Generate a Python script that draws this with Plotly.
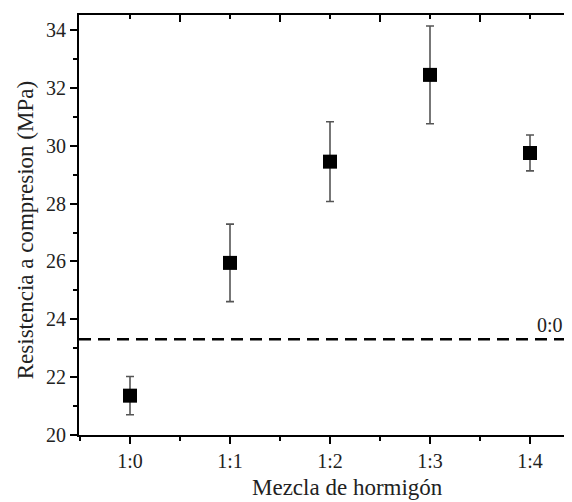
import plotly.graph_objects as go

categories = ["1:0", "1:1", "1:2", "1:3", "1:4"]
strength = [21.36, 25.95, 29.45, 32.45, 29.75]
err = [0.66, 1.34, 1.38, 1.69, 0.62]
reference_value = 23.31
reference_label = "0:0"
y_ticks = [20, 22, 24, 26, 28, 30, 32, 34]

xpos = list(range(len(categories)))
font = "Liberation Serif, Times New Roman, serif"
txt = "#222222"

fig = go.Figure()
fig.add_trace(go.Scatter(
    x=xpos, y=strength, mode="markers",
    marker=dict(symbol="square", size=14, color="black", line=dict(width=0)),
    error_y=dict(type="data", array=err, visible=True, color="#555555", thickness=1.6, width=4),
    showlegend=False,
))
# invisible trace to activate top axis
fig.add_trace(go.Scatter(x=xpos, y=strength, xaxis="x2", mode="markers",
                         marker=dict(opacity=0), showlegend=False, hoverinfo="skip"))

fig.add_shape(type="line", xref="paper", x0=0, x1=1, yref="y", y0=reference_value, y1=reference_value,
              line=dict(color="black", width=2.5, dash="12px,7px"))
fig.add_annotation(x=4.2, y=reference_value, xref="x", yref="y", text=reference_label, showarrow=False,
                   yanchor="bottom", yshift=1, font=dict(family=font, size=20, color=txt))

xr = [-0.51, 4.42]
fig.update_layout(
    width=564, height=494,
    margin=dict(l=71, r=0, t=7, b=67),
    plot_bgcolor="white", paper_bgcolor="white",
    font=dict(family=font, size=20, color=txt),
    xaxis=dict(range=xr, tickvals=xpos, ticktext=categories, showline=True, linecolor="black", linewidth=2,
               ticks="outside", ticklen=7, tickwidth=2, tickcolor="black", showgrid=False, zeroline=False,
               minor=dict(tick0=0.5, dtick=1, ticks="outside", ticklen=4, tickwidth=2, tickcolor="black",
                          showgrid=False),
               tickfont=dict(family=font, size=20, color=txt), automargin=False),
    xaxis2=dict(range=xr, overlaying="x", side="top", tickvals=xpos, showticklabels=False, showline=True,
                linecolor="black", linewidth=2, ticks="inside", ticklen=4, tickwidth=2, tickcolor="black",
                showgrid=False, zeroline=False,
                minor=dict(tick0=0.5, dtick=1, ticks="inside", ticklen=7, tickwidth=2, tickcolor="black",
                           showgrid=False)),
    yaxis=dict(range=[20, 34.52], tickvals=y_ticks, showline=True, linecolor="black", linewidth=2,
               ticks="outside", ticklen=7, tickwidth=2, tickcolor="black", showgrid=False, zeroline=False,
               minor=dict(tick0=21, dtick=2, ticks="outside", ticklen=4, tickwidth=2, tickcolor="black",
                          showgrid=False),
               tickfont=dict(family=font, size=20, color=txt), automargin=False),
)
fig.add_annotation(x=0.545, y=-0.125, xref="paper", yref="paper", text="Mezcla de hormigón", showarrow=False,
                   xanchor="center", yanchor="middle", font=dict(family=font, size=23, color=txt))
fig.add_annotation(x=-0.108, y=0.487, xref="paper", yref="paper", text="Resistencia a compresion (MPa)",
                   showarrow=False, textangle=-90, xanchor="center", yanchor="middle",
                   font=dict(family=font, size=23, color=txt))

fig.write_html("out.html")
